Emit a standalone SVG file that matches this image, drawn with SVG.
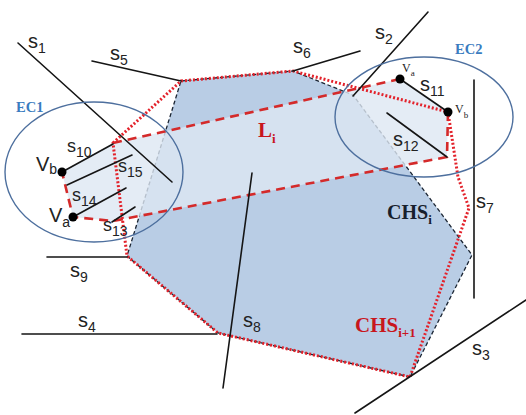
<svg xmlns="http://www.w3.org/2000/svg" width="526" height="415" viewBox="0 0 526 415">
<style>
.seg{stroke:#151515;stroke-width:1.6;fill:none;stroke-linecap:round}
.ec{fill:none;stroke:#4d6f9e;stroke-width:1.4}
.chsi{fill:none;stroke:#1b2533;stroke-width:1.3;stroke-dasharray:4 2.5}
.chs1{fill:none;stroke:#e3222b;stroke-width:3;stroke-dasharray:2 2}
.li{fill:none;stroke:#d42a2a;stroke-width:2.6;stroke-dasharray:9 6}
.lbl{font-family:"Liberation Sans",Arial,sans-serif;font-size:20px;fill:#222}
.sm{font-size:18px}
.sub{font-size:14px}
.ser{font-family:"Liberation Serif","Times New Roman",serif;font-weight:bold}
.ecl{font-family:"Liberation Serif","Times New Roman",serif;font-weight:bold;font-size:14.5px;fill:#3a7cc0}
.dot{fill:#000}
</style>
<rect width="526" height="415" fill="#fff"/>

<g id="CHSi">
  <polygon points="181,81 293,71 353,95 472,255 410,377 218,333 127,256" fill="#b9cde5"/>
  <polygon class="chsi" points="181,81 293,71 353,95 472,255 410,377 218,333 127,256"/>
  <text class="ser" x="387" y="219" font-size="20" fill="#17202c">CHS<tspan dy="5" font-size="13">i</tspan></text>
</g>

<g id="Li">
  <polygon points="62,172 113,143 400,79 448,112 447,157 113,221 73,217" fill="#dde7f3" fill-opacity="0.8"/>
  <path class="li" d="M113,143 L400,79 M448,112 L447,157 L113,221 L73,217 L62,172"/>
  <text class="ser" x="258" y="137" font-size="21" fill="#c8161d">L<tspan dy="6" font-size="13">i</tspan></text>
</g>

<g id="CHSi1">
  <polygon class="chs1" points="113,143 181,81 293,71 448,112 458,177 469,208 410,377 218,333 127,256"/>
  <text class="ser" x="355" y="332" font-size="21" fill="#c8161d">CHS<tspan dy="5" font-size="13">i+1</tspan></text>
</g>

<g id="connectors">
  <g id="s1"><line class="seg" x1="18" y1="43" x2="172" y2="182"/><text class="lbl" x="28" y="48">s<tspan class="sub" dy="5">1</tspan></text></g>
  <g id="s5"><line class="seg" x1="92" y1="61" x2="181" y2="81"/><text class="lbl" x="110" y="60">s<tspan class="sub" dy="5">5</tspan></text></g>
  <g id="s6"><line class="seg" x1="293" y1="71" x2="360" y2="51"/><text class="lbl" x="293" y="53">s<tspan class="sub" dy="5">6</tspan></text></g>
  <g id="s2"><line class="seg" x1="353" y1="96" x2="428" y2="12"/><text class="lbl" x="375" y="39">s<tspan class="sub" dy="5">2</tspan></text></g>
  <g id="s11"><line class="seg" x1="400" y1="79" x2="448" y2="112"/><text class="lbl" x="420" y="91">s<tspan class="sub" dy="5">11</tspan></text></g>
  <g id="s12"><line class="seg" x1="387" y1="113" x2="447" y2="157"/><text class="lbl" x="393" y="146">s<tspan class="sub" dy="5">12</tspan></text></g>
  <g id="s7"><line class="seg" x1="474" y1="80" x2="474" y2="298"/><text class="lbl" x="476" y="208">s<tspan class="sub" dy="5">7</tspan></text></g>
  <g id="s3"><line class="seg" x1="355" y1="413" x2="526" y2="300"/><text class="lbl" x="472" y="355">s<tspan class="sub" dy="5">3</tspan></text></g>
  <g id="s4"><line class="seg" x1="22" y1="334" x2="217" y2="334"/><text class="lbl" x="78" y="327">s<tspan class="sub" dy="5">4</tspan></text></g>
  <g id="s8"><line class="seg" x1="252" y1="173" x2="223" y2="388"/><text class="lbl" x="243" y="327">s<tspan class="sub" dy="5">8</tspan></text></g>
  <g id="s9"><line class="seg" x1="47" y1="257" x2="127" y2="257"/><text class="lbl" x="70" y="277">s<tspan class="sub" dy="5">9</tspan></text></g>
  <g id="s10"><line class="seg" x1="62" y1="172" x2="113" y2="144"/><text class="lbl sm" x="67" y="152">s<tspan class="sub" dy="5">10</tspan></text></g>
  <g id="s15"><line class="seg" x1="67" y1="185" x2="132" y2="155"/><text class="lbl sm" x="118" y="172">s<tspan class="sub" dy="5">15</tspan></text></g>
  <g id="s14"><line class="seg" x1="73" y1="217" x2="126" y2="188"/><text class="lbl sm" x="72" y="201">s<tspan class="sub" dy="5">14</tspan></text></g>
  <g id="s13"><line class="seg" x1="112" y1="222" x2="135" y2="207"/><text class="lbl sm" x="103" y="231">s<tspan class="sub" dy="5">13</tspan></text></g>
</g>

<g id="EC1">
  <ellipse class="ec" cx="94" cy="172" rx="89" ry="70"/>
  <text class="ecl" x="16" y="112">EC1</text>
</g>
<g id="EC2">
  <ellipse class="ec" cx="424" cy="117" rx="89" ry="60"/>
  <text class="ecl" x="455" y="54">EC2</text>
</g>

<g id="Vb1"><circle class="dot" cx="62" cy="172" r="4.5"/><text class="lbl" x="36" y="171" font-size="19">V<tspan dy="3" font-size="14">b</tspan></text></g>
<g id="Va1"><circle class="dot" cx="73" cy="217" r="4.5"/><text class="lbl" x="49" y="222" font-size="19">V<tspan dy="5" font-size="14">a</tspan></text></g>
<g id="Va2"><circle class="dot" cx="400" cy="79" r="4.5"/><text x="402" y="72" font-family="Liberation Serif, serif" font-size="12" fill="#222">V<tspan dy="4" font-size="9">a</tspan></text></g>
<g id="Vb2"><circle class="dot" cx="448" cy="112" r="4.5"/><text x="455" y="113" font-family="Liberation Serif, serif" font-size="12" fill="#222">V<tspan dy="5" font-size="9">b</tspan></text></g>
</svg>
